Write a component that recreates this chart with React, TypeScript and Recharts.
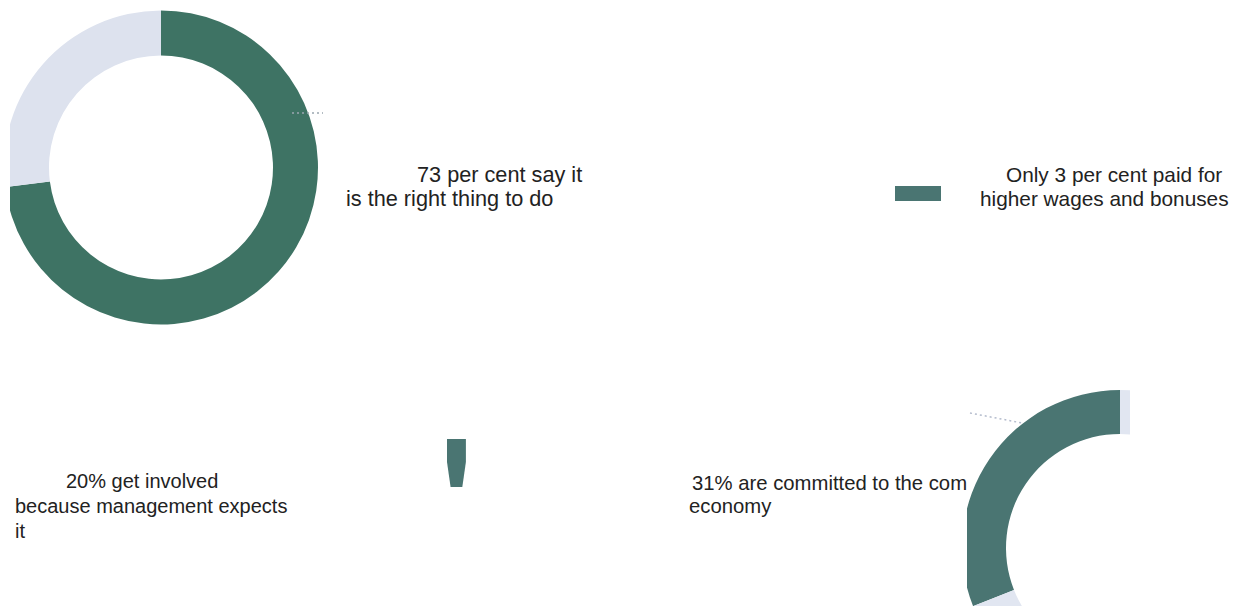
import React from "react";
import { PieChart, Pie, Cell, BarChart, Bar, XAxis, YAxis } from "recharts";

// ---- data ----
const rightThingSlices = [
  { name: "Right thing to do", value: 73 },
  { name: "Other", value: 27 },
];
const communitySlices = [
  { name: "Committed to the community and the economy", value: 31 },
  { name: "Other", value: 69 },
];
const wagesBar = [{ name: "Higher wages and bonuses", value: 3 }];

const labelRightThing = ["73 per cent say it", "is the right thing to do"];
const labelWages = ["Only 3 per cent paid for", "higher wages and bonuses"];
const labelManagement = ["20% get involved", "because management expects", "it"];
const labelCommunity = ["31% are committed to the community and the", "economy"];

const GREEN_A = "#3e7364";
const GREEN_B = "#4a7572";
const LIGHT_A = "#dde2ee";
const LIGHT_B = "#e1e6f1";
const FONT = "'Liberation Sans', Arial, Helvetica, sans-serif";
const TEXT = "#222222";

const VaseShape = (props: any) => {
  const { x, y, width, height, fill } = props;
  const inset = width * 0.19;
  const neck = y + height * 0.48;
  const d = `M${x},${y} H${x + width} V${neck} L${x + width - inset},${y + height} H${x + inset} L${x},${neck} Z`;
  return <path d={d} fill={fill} />;
};

export default function App() {
  return (
    <div
      style={{
        position: "absolute",
        left: 0,
        top: 0,
        width: 1239,
        height: 606,
        background: "#ffffff",
        overflow: "hidden",
      }}
    >
      {/* text layer */}
      <svg
        width={1239}
        height={606}
        style={{ position: "absolute", left: 0, top: 0 }}
      >
        <defs>
          <clipPath id="cutCommunity">
            <rect x={0} y={440} width={967} height={100} />
          </clipPath>
        </defs>
        <g fontFamily={FONT} fill={TEXT}>
          <text x={417} y={182} fontSize={21.7}>{labelRightThing[0]}</text>
          <text x={346} y={206} fontSize={21.7}>{labelRightThing[1]}</text>

          <text x={1006} y={182} fontSize={20.8}>{labelWages[0]}</text>
          <text x={980} y={206} fontSize={20.8}>{labelWages[1]}</text>

          <text x={66} y={488} fontSize={20}>{labelManagement[0]}</text>
          <text x={15} y={513} fontSize={20}>{labelManagement[1]}</text>
          <text x={15} y={538} fontSize={20}>{labelManagement[2]}</text>

          <text x={692} y={490} fontSize={20.3} clipPath="url(#cutCommunity)">
            {labelCommunity[0]}
          </text>
          <text x={689} y={513} fontSize={20.3}>{labelCommunity[1]}</text>
        </g>
        <rect x={895} y={186} width={46} height={15} fill={GREEN_B} />
      </svg>

      {/* top-left donut */}
      <div
        style={{
          position: "absolute",
          left: 10,
          top: 0,
          width: 320,
          height: 330,
          overflow: "hidden",
        }}
      >
        <PieChart width={320} height={330} margin={{ top: 0, right: 0, bottom: 0, left: 0 }}>
          <Pie
            data={rightThingSlices}
            dataKey="value"
            cx={151}
            cy={167.5}
            innerRadius={112}
            outerRadius={157}
            startAngle={90}
            endAngle={-270}
            stroke="none"
            isAnimationActive={false}
          >
            <Cell fill={GREEN_A} />
            <Cell fill={LIGHT_A} />
          </Pie>
        </PieChart>
      </div>

      {/* small bar */}
      <div style={{ position: "absolute", left: 446, top: 439, width: 21, height: 48 }}>
        <BarChart
          width={21}
          height={48}
          data={wagesBar}
          margin={{ top: 0, right: 0, bottom: 0, left: 0 }}
          barCategoryGap={0}
        >
          <XAxis dataKey="name" hide />
          <YAxis hide domain={[0, 3]} />
          <Bar
            dataKey="value"
            fill={GREEN_B}
            barSize={21}
            shape={<VaseShape />}
            isAnimationActive={false}
          />
        </BarChart>
      </div>

      {/* bottom-right donut (cropped picture) */}
      <div
        style={{
          position: "absolute",
          left: 967,
          top: 380,
          width: 163,
          height: 226,
          overflow: "hidden",
          background: "#ffffff",
        }}
      >
        <PieChart width={163} height={226} margin={{ top: 0, right: 0, bottom: 0, left: 0 }}>
          <Pie
            data={communitySlices}
            dataKey="value"
            cx={153}
            cy={168}
            innerRadius={114}
            outerRadius={158}
            startAngle={90}
            endAngle={450}
            stroke="none"
            isAnimationActive={false}
          >
            <Cell fill={GREEN_B} />
            <Cell fill={LIGHT_B} />
          </Pie>
        </PieChart>
      </div>

      {/* leader lines */}
      <svg
        width={1239}
        height={606}
        style={{ position: "absolute", left: 0, top: 0, pointerEvents: "none" }}
      >
        <line x1={292} y1={113} x2={323} y2={113} stroke="#9aa6b0" strokeWidth={1.5} strokeDasharray="2 3" />
        <line x1={970} y1={413} x2={1022} y2={423} stroke="#b4bccd" strokeWidth={1.5} strokeDasharray="2 3" />
      </svg>
    </div>
  );
}
